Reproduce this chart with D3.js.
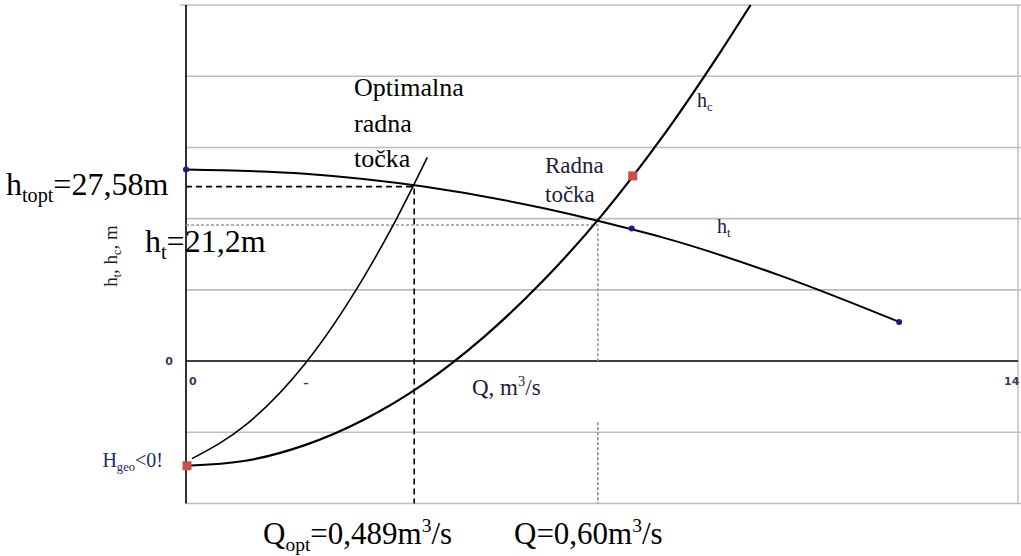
<!DOCTYPE html>
<html lang="hr">
<head>
<meta charset="utf-8">
<title>h-Q dijagram</title>
<script src="https://d3js.org/d3.v7.min.js"></script>
<style>
  body { margin: 0; background: #fff; }
  .tick { font-family: "DejaVu Sans", sans-serif; font-size: 11px; font-weight: bold; fill: #3b3b5a; }
</style>
</head>
<body>
<div id="chart"></div>
<script>
// os Q: 0..14, os h: u koracima mreze (-2..5)
var xTicks = [0, 14];
var yGrid = [-2, -1, 0, 1, 2, 3, 4, 5];

// karakteristika pumpe h_t
var htCurve = [[0, 2.69], [2, 2.63], [4, 2.45], [6, 2.15], [7.5, 1.85], [8, 1.74], [10, 1.20], [12, 0.55]];
var htDots = [[0, 2.69], [7.5, 1.86], [12, 0.55]];

// karakteristika cjevovoda h_c
var hcCurve = [[0, -1.47], [1, -1.40], [2, -1.18], [3, -0.82], [4, -0.32], [5, 0.33], [6, 1.12], [7, 2.05], [8, 3.13], [9, 4.35], [9.5, 5.0]];
var hcSquares = [[0, -1.47], [7.5, 2.6]];

// krivulja optimalne radne tocke
var optCurve = [[0.1, -1.37], [1, -0.90], [2, -0.04], [3, 1.19], [3.5, 1.93], [4.06, 2.86]];

// radne tocke
var qOpt = 3.84, hOpt = 2.45;
var qRad = 6.93, hRad = 1.91;
var qRadGap = [0, -0.86];

var SERIF = "'Liberation Serif'";

var margin = {top: 5, right: 3, bottom: 52.5, left: 186};
var width = 1021 - margin.left - margin.right,
    height = 556 - margin.top - margin.bottom;

var svg = d3.select("#chart").append("svg")
    .attr("width", 1021)
    .attr("height", 556);

var g = svg.append("g")
    .attr("transform", "translate(" + margin.left + "," + margin.top + ")");

var x = d3.scaleLinear().domain([0, 14]).range([0, width]);
var y = d3.scaleLinear().domain([-2, 5]).range([height, 0]);

// mreza
g.selectAll(".grid")
    .data(yGrid.filter(function(d) { return d !== 0; }))
    .enter().append("line")
    .attr("class", "grid")
    .attr("x1", function(d) { return d === 5 ? -6 : 0; })
    .attr("x2", width + 3)
    .attr("y1", function(d) { return y(d); })
    .attr("y2", function(d) { return y(d); })
    .attr("stroke", "#bdbdbd")
    .attr("stroke-width", 1.6);

g.append("line")
    .attr("x1", x(14)).attr("x2", x(14))
    .attr("y1", y(5)).attr("y2", y(-2))
    .attr("stroke", "#c4c4c4").attr("stroke-width", 1.6);

// osi
g.append("line")
    .attr("x1", 0).attr("x2", x(14))
    .attr("y1", y(0)).attr("y2", y(0))
    .attr("stroke", "#000").attr("stroke-width", 1.6);
g.append("line")
    .attr("x1", 0).attr("x2", 0)
    .attr("y1", y(5)).attr("y2", y(-2))
    .attr("stroke", "#000").attr("stroke-width", 1.6);

var line = d3.line()
    .x(function(d) { return x(d[0]); })
    .y(function(d) { return y(d[1]); })
    .curve(d3.curveMonotoneX);

// isprekidane linije radnih tocaka
g.append("path")
    .attr("d", d3.line()([[x(0), y(hOpt)], [x(qOpt), y(hOpt)], [x(qOpt), y(-2)]]))
    .attr("fill", "none").attr("stroke", "#000")
    .attr("stroke-width", 1.6).attr("stroke-dasharray", "6,4");

g.append("path")
    .attr("d", d3.line()([[x(0), y(hRad)], [x(qRad), y(hRad)], [x(qRad), y(qRadGap[0])]]))
    .attr("fill", "none").attr("stroke", "#999")
    .attr("stroke-width", 1.6).attr("stroke-dasharray", "3,2");
g.append("line")
    .attr("x1", x(qRad)).attr("x2", x(qRad))
    .attr("y1", y(qRadGap[1])).attr("y2", y(-2))
    .attr("stroke", "#888").attr("stroke-width", 1.6).attr("stroke-dasharray", "3,2");

// krivulje
g.append("path").datum(htCurve)
    .attr("d", line).attr("fill", "none")
    .attr("stroke", "#000").attr("stroke-width", 2);
g.append("path").datum(hcCurve)
    .attr("d", line).attr("fill", "none")
    .attr("stroke", "#000").attr("stroke-width", 2.2);
g.append("path").datum(optCurve)
    .attr("d", line).attr("fill", "none")
    .attr("stroke", "#000").attr("stroke-width", 1.6);

// oznake tocaka
g.selectAll(".dot").data(htDots).enter().append("circle")
    .attr("class", "dot")
    .attr("cx", function(d) { return x(d[0]); })
    .attr("cy", function(d) { return y(d[1]); })
    .attr("r", 3)
    .attr("fill", "#1c1c7a");

g.selectAll(".sq").data(hcSquares).enter().append("rect")
    .attr("class", "sq")
    .attr("x", function(d) { return x(d[0]) - 3.5; })
    .attr("y", function(d) { return y(d[1]) - 4.5; })
    .attr("width", 9).attr("height", 9)
    .attr("fill", "#c9504a");

// oznake osi
svg.append("text").attr("class", "tick")
    .attr("x", 169).attr("y", y(0) + margin.top + 4)
    .attr("text-anchor", "middle").text("0");
svg.selectAll(".xt").data(xTicks).enter().append("text")
    .attr("class", "tick")
    .attr("x", function(d) { return margin.left + x(d) + (d === 0 ? 3 : -14); })
    .attr("y", y(0) + margin.top + 24)
    .text(function(d) { return d; });
svg.append("text").attr("class", "tick")
    .attr("x", 306).attr("y", 387)
    .attr("text-anchor", "middle").text("–");

// tekst s indeksima
function rich(px, py, size, parts, color, anchor) {
    var t = svg.append("text")
        .style("font-family", SERIF)
        .attr("x", px).attr("y", py)
        .attr("font-size", size)
        .attr("fill", color || "#000")
        .attr("text-anchor", anchor || "start");
    var shift = 0;
    parts.forEach(function(p) {
        var s = t.append("tspan").text(p[0]);
        var target = 0;
        if (p[1] === "sub") { s.attr("font-size", size * 0.63); target = size * 0.22; }
        if (p[1] === "sup") { s.attr("font-size", size * 0.63); target = -size * 0.38; }
        s.attr("dy", target - shift);
        shift = target;
    });
    return t;
}

rich(6, 195, 32, [["h"], ["topt", "sub"], ["=27,58m"]]);
rich(145, 252, 32, [["h"], ["t", "sub"], ["=21,2m"]]);
rich(263, 544, 31, [["Q"], ["opt", "sub"], ["=0,489m"], ["3", "sup"], ["/s"]]);
rich(514, 544, 31, [["Q=0,60m"], ["3", "sup"], ["/s"]]);

rich(472, 395, 23, [["Q, m"], ["3", "sup"], ["/s"]], "#1d1d3a");
rich(697, 107, 20, [["h"], ["c", "sub"]], "#1d1d3a");
rich(717, 233, 20, [["h"], ["t", "sub"]], "#1d1d3a");
rich(163, 467, 20, [["H"], ["geo", "sub"], ["<0!"]], "#1d2a6a", "end");

var optLines = ["Optimalna", "radna", "točka"];
svg.selectAll(".opt").data(optLines).enter().append("text")
    .attr("class", "opt")
    .style("font-family", SERIF)
    .attr("x", 354).attr("y", function(d, i) { return 96 + i * 35.5; })
    .attr("font-size", 26).text(function(d) { return d; });

var radLines = ["Radna", "točka"];
svg.selectAll(".rad").data(radLines).enter().append("text")
    .attr("class", "rad")
    .style("font-family", SERIF)
    .attr("x", 545).attr("y", function(d, i) { return 173 + i * 29; })
    .attr("font-size", 23).attr("fill", "#1d1d3a")
    .text(function(d) { return d; });

// naslov osi y
var yt = rich(0, 0, 19, [["h"], ["t", "sub"], [", h"], ["c", "sub"], [", m"]], "#222", "middle");
yt.attr("transform", "translate(117,256) rotate(-90)");
</script>
</body>
</html>
